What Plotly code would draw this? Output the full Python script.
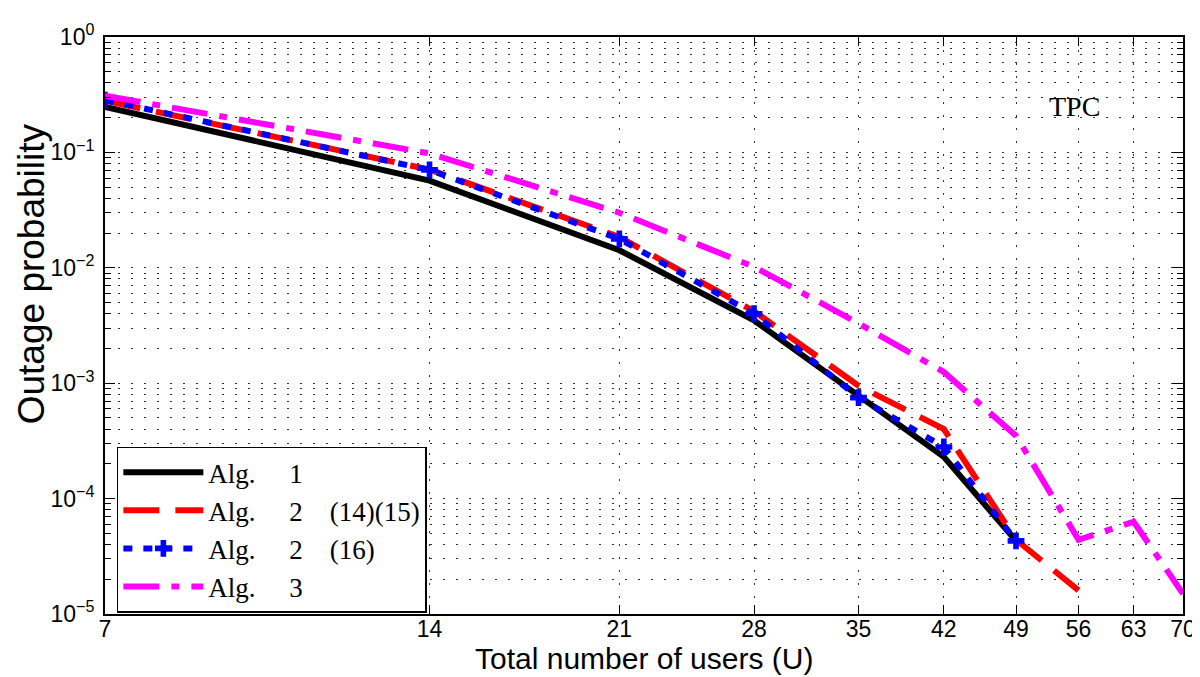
import plotly.graph_objects as go
import numpy as np

users = [7, 14, 21, 28, 35, 42, 49, 56, 63, 70]

alg1 = [0.248, 0.057, 0.0142, 0.0035, 7.8e-4, 2.3e-4, 4.3e-5]
alg2_1415 = [0.28, 0.071, 0.0185, 0.0042, 9.5e-4, 4.0e-4, 4.4e-5, 1.6e-5]
alg2_16 = [0.284, 0.0705, 0.0178, 0.0040, 7.5e-4, 2.8e-4, 4.3e-5]
alg3 = [0.31, 0.098, 0.030, 0.0102, 3.3e-3, 1.25e-3, 3.5e-4, 4.4e-5, 6.3e-5, 1.5e-5]

S = "\u00a0"
names = ["Alg." + S * 5 + "1",
         "Alg." + S * 5 + "2" + S * 4 + "(14)(15)",
         "Alg." + S * 5 + "2" + S * 4 + "(16)",
         "Alg." + S * 5 + "3"]

x_title = "Total number of users (U)"
y_title = "Outage probability"

xticks = [7, 14, 21, 28, 35, 42, 49, 56, 63, 70]
ymajor = [1e-5, 1e-4, 1e-3, 1e-2, 1e-1, 1e0]
ylabels = ["10<sup>\u22125</sup>", "10<sup>\u22124</sup>", "10<sup>\u22123</sup>",
           "10<sup>\u22122</sup>", "10<sup>\u22121</sup>", "10<sup>0</sup>"]
yminor = [m * 10.0 ** e for e in range(-5, 0) for m in range(2, 10)]

fig = go.Figure()
fig.add_trace(go.Scatter(x=users[:len(alg1)], y=alg1, mode="lines", name=names[0],
                         line=dict(color="#000000", width=6)))
fig.add_trace(go.Scatter(x=users[:len(alg2_1415)], y=alg2_1415, mode="lines", name=names[1],
                         line=dict(color="#FF0000", width=6, dash="36px,16px")))
fig.add_trace(go.Scatter(x=users[:len(alg2_16)], y=alg2_16, mode="lines+markers", name=names[2],
                         line=dict(color="#0000FF", width=6, dash="9px,11px"),
                         marker=dict(symbol="cross", size=14, color="#0000FF")))
fig.add_trace(go.Scatter(x=users[:len(alg3)], y=alg3, mode="lines", name=names[3],
                         line=dict(color="#FF00FF", width=6, dash="36px,12px,8px,12px")))

gridc = "#303030"
serif = "Liberation Serif, Times New Roman, serif"
fig.update_layout(
    width=1200, height=677,
    margin=dict(l=97, r=14, t=20, b=71),
    paper_bgcolor="white", plot_bgcolor="white",
    font=dict(family="Liberation Sans, Arial, sans-serif", size=23, color="black"),
    showlegend=True,
    legend=dict(x=0.011, y=0.29, xanchor="left", yanchor="top",
                bgcolor="white", bordercolor="black", borderwidth=1.5,
                font=dict(family=serif, size=27),
                itemwidth=80, tracegroupgap=0),
    xaxis=dict(type="log", range=[np.log10(7), np.log10(70)],
               tickmode="array", tickvals=xticks, ticktext=[str(v) for v in xticks],
               ticks="inside", ticklen=9, tickwidth=1.2, tickcolor="black",
               showline=True, linecolor="black", linewidth=2, mirror="allticks",
               showgrid=True, gridcolor=gridc, gridwidth=1, griddash="2px,11px",
               zeroline=False, ticklabelstandoff=-7,
               tickfont=dict(size=23)),
    yaxis=dict(type="log", range=[-5, 0],
               tickmode="array", tickvals=ymajor, ticktext=ylabels,
               ticks="inside", ticklen=10, tickwidth=1.2, tickcolor="black",
               showline=True, linecolor="black", linewidth=2, mirror="allticks",
               showgrid=True, gridcolor=gridc, gridwidth=1, griddash="2px,11px",
               minor=dict(tickvals=yminor, ticks="inside", ticklen=6, tickcolor="black",
                          showgrid=True, gridcolor=gridc, gridwidth=1, griddash="2px,11px"),
               zeroline=False, ticklabelstandoff=4,
               tickfont=dict(size=23)),
    annotations=[
        dict(text="TPC", x=0.899, y=0.88, xref="paper", yref="paper",
             xanchor="center", yanchor="middle", showarrow=False,
             font=dict(family=serif, size=28)),
        dict(text=x_title, x=0.5, y=-0.077, xref="paper", yref="paper",
             xanchor="center", yanchor="middle", showarrow=False,
             font=dict(size=30)),
        dict(text=y_title, x=-0.0680, y=0.59, xref="paper", yref="paper",
             xanchor="center", yanchor="middle", showarrow=False, textangle=-90,
             font=dict(size=37)),
    ],
)

fig.write_html("out.html")
